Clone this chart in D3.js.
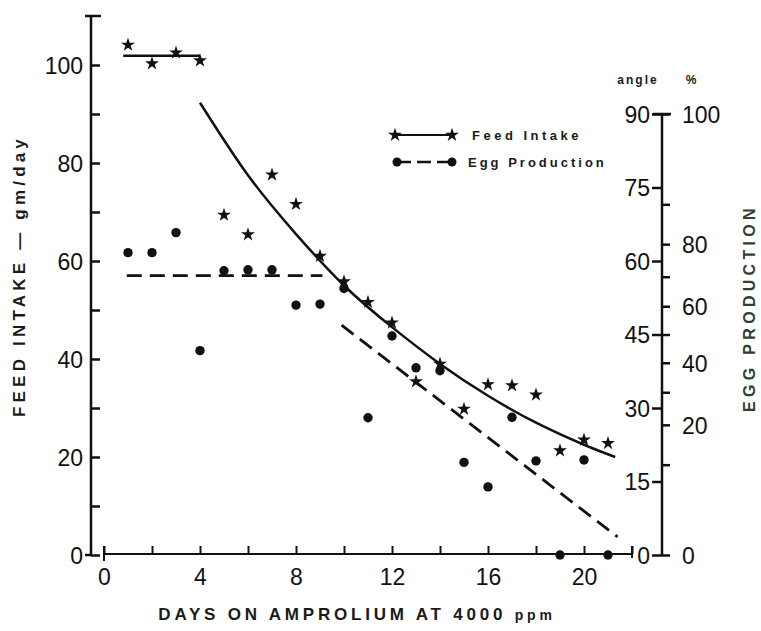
<!DOCTYPE html>
<html>
<head>
<meta charset="UTF-8">
<title>Feed intake and egg production</title>
<script src="https://cdn.jsdelivr.net/npm/d3@7"></script>
<style>
  body { margin: 0; background: #fff; }
  svg { display: block; }
  .tick text { font-family: 'Liberation Sans', sans-serif; font-size: 23px; fill: #111; }
  .lbl { font-family: 'Liberation Sans', sans-serif; font-weight: bold; fill: #1a1a1a; }
</style>
</head>
<body>
<svg id="chart" width="761" height="631"></svg>
<script>
// days on amprolium (1..21)
const days = d3.range(1, 22);
// feed intake, gm/day (stars)
const feedIntake = [104.1, 100.3, 102.5, 100.9, 69.4, 65.4, 77.6, 71.6, 61.0, 55.8, 51.6,
                    47.4, 35.4, 39.0, 29.8, 34.8, 34.6, 32.7, 21.3, 23.5, 22.8];
// egg production, arcsine angle (dots)
const eggAngle = [61.7, 61.7, 65.8, 41.7, 58.0, 58.2, 58.2, 51.0, 51.2, 54.4, 28.0,
                  44.7, 38.2, 37.6, 18.9, 13.9, 28.1, 19.2, 0, 19.4, 0];

// fitted lines
const feedFlatDays = [0.8, 4.0];
const feedFlatVals = [101.9, 101.9];
const feedCurveDays = [4, 6, 8, 10, 12, 14, 16, 18, 20, 21.3];
const feedCurveVals = [92.3, 77.5, 65.5, 55, 46.5, 39, 32.5, 27, 22.5, 20];
const eggFlatDays = [0.95, 9.1];
const eggFlatVals = [57, 57];
const eggDropDays = [9.9, 21.4];
const eggDropVals = [46.9, 3.7];

// axis ticks
const xTicks = d3.range(0, 23, 2);
const xLabels = [0, 4, 8, 12, 16, 20];
const feedMajor = [0, 20, 40, 60, 80, 100];
const feedMinor = [10, 30, 50, 70, 90];
const angleTicks = [0, 15, 30, 45, 60, 75, 90];
const pctTicks = [0, 10, 20, 30, 40, 50, 60, 70, 80, 90, 100];
const pctLabels = [0, 20, 40, 60, 80, 100];

const svg = d3.select('#chart');

const x = d3.scaleLinear().domain([0, 22]).range([104, 632]);
const y = d3.scaleLinear().domain([0, 110]).range([555, 16]);
const yAngle = d3.scaleLinear().domain([0, 90]).range([y(0), y(90)]);
const toAngle = p => Math.asin(Math.sqrt(p / 100)) * 180 / Math.PI;

const leftX = 91, rightX = 662, axisY = 554;

// ---- left axis (feed intake)
const gl = svg.append('g').attr('transform', `translate(${leftX},0)`);
gl.call(d3.axisLeft(y).tickValues(feedMajor).tickSizeInner(-9).tickSizeOuter(0).tickPadding(8));
gl.append('g').call(d3.axisLeft(y).tickValues(feedMinor).tickSizeInner(-9).tickSizeOuter(0).tickFormat(''));
gl.selectAll('.domain').remove();
gl.append('line').attr('x1', 0).attr('x2', 0).attr('y1', y(0)).attr('y2', y(110));
gl.append('line').attr('x1', -6).attr('x2', 10).attr('y1', y(110)).attr('y2', y(110));
gl.append('line').attr('x1', -6).attr('x2', 0).attr('y1', y(0)).attr('y2', y(0));
gl.selectAll('line').attr('stroke', '#111').attr('stroke-width', 2.5);
gl.selectAll('.tick text').attr('dy', '0.36em');

// ---- x axis
const gx = svg.append('g').attr('transform', `translate(0,${axisY})`);
gx.call(d3.axisBottom(x).tickValues(xTicks).tickSizeInner(-8).tickSizeOuter(0).tickPadding(15)
  .tickFormat(d => xLabels.includes(d) ? d : ''));
gx.selectAll('.domain').remove();
gx.append('line').attr('x1', x(0)).attr('x2', x(22)).attr('y1', 0).attr('y2', 0);
gx.append('line').attr('x1', x(0)).attr('x2', x(0)).attr('y1', -8).attr('y2', 7);
gx.append('line').attr('x1', x(22)).attr('x2', x(22)).attr('y1', -8).attr('y2', 4);
gx.selectAll('line').attr('stroke', '#111').attr('stroke-width', 2);

// ---- right axis (angle on the left of it, % on the right)
const gr = svg.append('g').attr('transform', `translate(${rightX},0)`);
gr.call(d3.axisLeft(yAngle).tickValues(angleTicks).tickSizeInner(10).tickSizeOuter(0).tickPadding(2));
gr.append('g').call(d3.axisRight(yAngle).tickValues(pctTicks.map(toAngle)).tickSizeInner(8)
  .tickSizeOuter(0).tickPadding(12)
  .tickFormat((a, i) => pctLabels.includes(pctTicks[i]) ? pctTicks[i] : ''));
gr.selectAll('.domain').remove();
gr.append('line').attr('x1', 0).attr('x2', 0).attr('y1', yAngle(0)).attr('y2', yAngle(90));
gr.append('line').attr('x1', -9).attr('x2', 9).attr('y1', yAngle(90)).attr('y2', yAngle(90));
gr.selectAll('line').attr('stroke', '#111').attr('stroke-width', 2.5);
gr.selectAll('.tick text').attr('dy', '0.36em');
gr.selectAll('.tick text').filter(function () { return this.textContent === '0' && +this.getAttribute('x') > 0; })
  .attr('fill', '#d0302a');

// ---- fitted lines
const line = d3.line().x(d => x(d[0])).y(d => y(d[1]));
const curve = d3.line().x(d => x(d[0])).y(d => y(d[1])).curve(d3.curveNatural);

svg.append('path').datum(d3.zip(feedFlatDays, feedFlatVals))
  .attr('d', line).attr('fill', 'none').attr('stroke', '#111').attr('stroke-width', 2.5);
svg.append('path').datum(d3.zip(feedCurveDays, feedCurveVals))
  .attr('d', curve).attr('fill', 'none').attr('stroke', '#111').attr('stroke-width', 2.5);
svg.append('path').datum(d3.zip(eggFlatDays, eggFlatVals))
  .attr('d', line).attr('fill', 'none').attr('stroke', '#111').attr('stroke-width', 2.8)
  .attr('stroke-dasharray', '15,8');
svg.append('path').datum(d3.zip(eggDropDays, eggDropVals))
  .attr('d', line).attr('fill', 'none').attr('stroke', '#111').attr('stroke-width', 2.8)
  .attr('stroke-dasharray', '15,8');

// ---- points
const star = d3.symbol().type(d3.symbolStar).size(60);
svg.append('g').selectAll('path')
  .data(d3.zip(days, feedIntake))
  .join('path')
  .attr('transform', d => `translate(${x(d[0])},${y(d[1])})`)
  .attr('d', star)
  .attr('fill', '#111');

svg.append('g').selectAll('circle')
  .data(d3.zip(days, eggAngle))
  .join('circle')
  .attr('cx', d => x(d[0]))
  .attr('cy', d => yAngle(d[1]))
  .attr('r', 4.7)
  .attr('fill', '#111');

// ---- legend
const lg = svg.append('g');
lg.append('line').attr('x1', 395).attr('x2', 452).attr('y1', 135).attr('y2', 135)
  .attr('stroke', '#111').attr('stroke-width', 2);
lg.selectAll('.ls').data([395, 452]).join('path').attr('class', 'ls')
  .attr('transform', d => `translate(${d},135)`).attr('d', star).attr('fill', '#111');
lg.append('line').attr('x1', 397).attr('x2', 452).attr('y1', 162).attr('y2', 162)
  .attr('stroke', '#111').attr('stroke-width', 2.5).attr('stroke-dasharray', '14,6');
lg.selectAll('.ld').data([397, 452]).join('circle').attr('class', 'ld')
  .attr('cx', d => d).attr('cy', 162).attr('r', 4.5).attr('fill', '#111');
lg.append('text').attr('class', 'lbl').attr('x', 472).attr('y', 140)
  .style('font-size', '13px').style('letter-spacing', '3.5px').text('Feed Intake');
lg.append('text').attr('class', 'lbl').attr('x', 468).attr('y', 167)
  .style('font-size', '13px').style('letter-spacing', '3px').text('Egg Production');

// ---- titles
svg.append('text').attr('class', 'lbl').attr('x', 357).attr('y', 620)
  .attr('text-anchor', 'middle').style('font-size', '17px').style('letter-spacing', '3.8px')
  .text('DAYS ON AMPROLIUM AT 4000 ')
  .append('tspan').style('font-size', '14px').text('ppm');

svg.append('text').attr('class', 'lbl')
  .attr('transform', 'translate(25,276) rotate(-90)')
  .attr('text-anchor', 'middle').style('font-size', '17px').style('letter-spacing', '4.2px')
  .text('FEED INTAKE \u2014 gm/day');

svg.append('text').attr('class', 'lbl')
  .attr('transform', 'translate(755,308) rotate(-90)')
  .attr('text-anchor', 'middle').style('font-size', '16px').style('letter-spacing', '4.3px')
  .style('fill', '#2e4036')
  .text('EGG PRODUCTION');

svg.append('text').attr('class', 'lbl').attr('x', 638).attr('y', 84)
  .attr('text-anchor', 'middle').style('font-size', '12px').style('letter-spacing', '2px').text('angle');
svg.append('text').attr('class', 'lbl').attr('x', 691).attr('y', 84)
  .attr('text-anchor', 'middle').style('font-size', '12px').text('%');
</script>
</body>
</html>
